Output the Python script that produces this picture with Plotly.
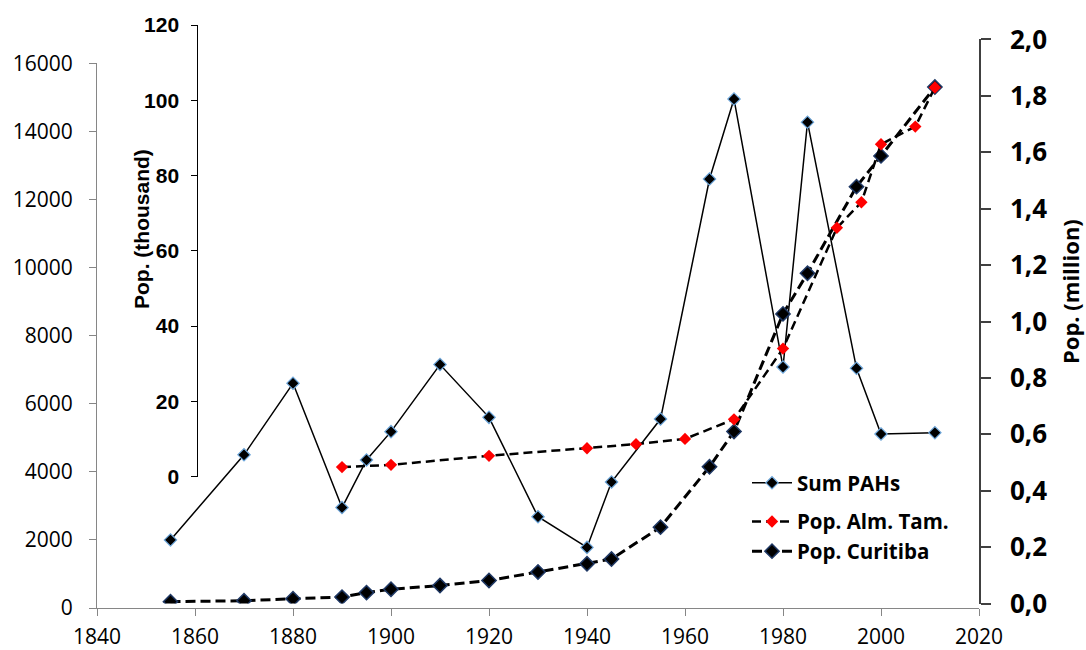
import plotly.graph_objects as go

# Sampling years of the sediment core and summed PAH concentrations
years_pahs = [1855, 1870, 1880, 1890, 1895, 1900, 1910, 1920, 1930, 1940,
              1945, 1955, 1965, 1970, 1980, 1985, 1995, 2000, 2011]
sum_pahs = [2000, 4500, 6600, 2950, 4350, 5180, 7150, 5600, 2680, 1780,
            3700, 5550, 12600, 14950, 7080, 14270, 7040, 5110, 5150]

# Almirante Tamandaré population (thousand inhabitants)
years_alm = [1890, 1900, 1920, 1940, 1950, 1960, 1970, 1980, 1991, 1996,
             2000, 2007, 2011]
pop_alm = [2.5, 3.1, 5.5, 7.5, 8.6, 10.0, 15.2, 34.0, 66.1, 72.9,
           88.3, 93.0, 103.4]

# Curitiba population (million inhabitants) at the core sampling years
years_cur = years_pahs
pop_cur = [0.007, 0.010, 0.017, 0.023, 0.039, 0.051, 0.064, 0.082, 0.112, 0.141,
           0.158, 0.271, 0.485, 0.610, 1.027, 1.171, 1.478, 1.587, 1.831]

# Tick values and labels
x_ticks = [1840, 1860, 1880, 1900, 1920, 1940, 1960, 1980, 2000, 2020]
pahs_ticks = [0, 2000, 4000, 6000, 8000, 10000, 12000, 14000, 16000]
thousand_ticks = [0, 20, 40, 60, 80, 100, 120]
million_ticks = [0.0, 0.2, 0.4, 0.6, 0.8, 1.0, 1.2, 1.4, 1.6, 1.8, 2.0]
million_labels = ["0,0", "0,2", "0,4", "0,6", "0,8", "1,0", "1,2", "1,4", "1,6", "1,8", "2,0"]

W, H = 1086, 650
ML, MR, MT, MB = 97, 107, 25, 42
PW, PH = W - ML - MR, H - MT - MB


def yfrac(py):
    return (H - MB - py) / PH


def xfrac(px):
    return (px - ML) / PW


fig = go.Figure()

fig.add_trace(go.Scatter(
    x=years_pahs, y=sum_pahs, name="Sum PAHs", mode="lines+markers",
    xaxis="x", yaxis="y", legendgroup="a", legendrank=1,
    line=dict(color="black", width=1.5),
    marker=dict(symbol="diamond", size=9.5, color="black",
                line=dict(color="#6fa8dc", width=1.2)),
))

fig.add_trace(go.Scatter(
    x=years_cur, y=pop_cur, name="Pop. Curitiba", mode="lines+markers",
    xaxis="x", yaxis="y2", legendgroup="b", legendrank=3,
    line=dict(color="black", width=3, dash="10px,5px"),
    marker=dict(symbol="diamond", size=11, color="black",
                line=dict(color="#1f3864", width=1.5)),
))

fig.add_trace(go.Scatter(
    x=years_alm, y=pop_alm, name="Pop. Alm. Tam.", mode="lines+markers",
    xaxis="x", yaxis="y3", legendgroup="b", legendrank=2,
    line=dict(color="black", width=2.5, dash="9px,5px"),
    marker=dict(symbol="diamond", size=9.5, color="red", line=dict(width=0)),
))

tick_font = dict(family="Open Sans", size=21, color="black")
axis_gray = "#868686"

fig.update_layout(
    template="none",
    width=W, height=H,
    margin=dict(l=ML, r=MR, t=MT, b=MB, pad=0, autoexpand=False),
    paper_bgcolor="white",
    plot_bgcolor="rgba(0,0,0,0)",
    showlegend=True,
    xaxis=dict(
        range=[1840, 2020], domain=[0, 1], anchor="y", automargin=False,
        tickvals=x_ticks, ticktext=[str(v) for v in x_ticks],
        ticks="outside", ticklen=7, tickcolor=axis_gray, tickwidth=1,
        showline=True, linecolor=axis_gray, linewidth=1,
        showgrid=False, zeroline=False, tickfont=tick_font,
        ticklabelstandoff=3,
    ),
    yaxis=dict(
        range=[0, 16000], domain=[0, yfrac(63.3)], anchor="x", automargin=False,
        tickvals=pahs_ticks, ticktext=[str(v) for v in pahs_ticks],
        ticks="outside", ticklen=7, tickcolor=axis_gray, tickwidth=1,
        showline=True, linecolor=axis_gray, linewidth=1,
        showgrid=False, zeroline=False, tickfont=tick_font,
        ticklabelstandoff=12,
    ),
    yaxis2=dict(
        range=[0, 2.0], domain=[yfrac(603.6), yfrac(39.4)],
        anchor="x", side="right", automargin=False,
        tickvals=million_ticks, ticktext=million_labels,
        ticks="outside", ticklen=10, tickcolor="#404040", tickwidth=1.5,
        showline=True, linecolor="#404040", linewidth=1.5,
        showgrid=False, zeroline=False,
        tickfont=dict(family="Open Sans", size=26, color="black", weight="bold"),
        ticklabelstandoff=14,
    ),
    yaxis3=dict(
        range=[0, 120], domain=[yfrac(476.5), 1.0],
        anchor="free", position=xfrac(197.3), side="left", automargin=False,
        tickvals=thousand_ticks, ticktext=[str(v) for v in thousand_ticks],
        ticks="outside", ticklen=6, tickcolor="black", tickwidth=1,
        showline=True, linecolor="black", linewidth=1,
        showgrid=False, zeroline=False,
        tickfont=dict(family="Liberation Sans", size=21, color="black", weight="bold"),
        ticklabelstandoff=8,
    ),
    legend=dict(
        x=xfrac(747), y=yfrac(463), xanchor="left", yanchor="top",
        bgcolor="white", borderwidth=0,
        font=dict(family="Open Sans", size=20.5, color="black", weight="bold"),
        traceorder="grouped", tracegroupgap=9, itemwidth=40,
    ),
    annotations=[
        dict(text="Pop. (thousand)", textangle=-90, xref="paper", yref="paper",
             x=xfrac(141), y=yfrac(229), xanchor="center", yanchor="middle",
             showarrow=False,
             font=dict(family="Liberation Sans", size=21, color="black", weight="bold")),
        dict(text="Pop. (million)", textangle=-90, xref="paper", yref="paper",
             x=xfrac(1070), y=yfrac(292), xanchor="center", yanchor="middle",
             showarrow=False,
             font=dict(family="Open Sans", size=22, color="black", weight="bold")),
    ],
)

fig.write_html("out.html")
